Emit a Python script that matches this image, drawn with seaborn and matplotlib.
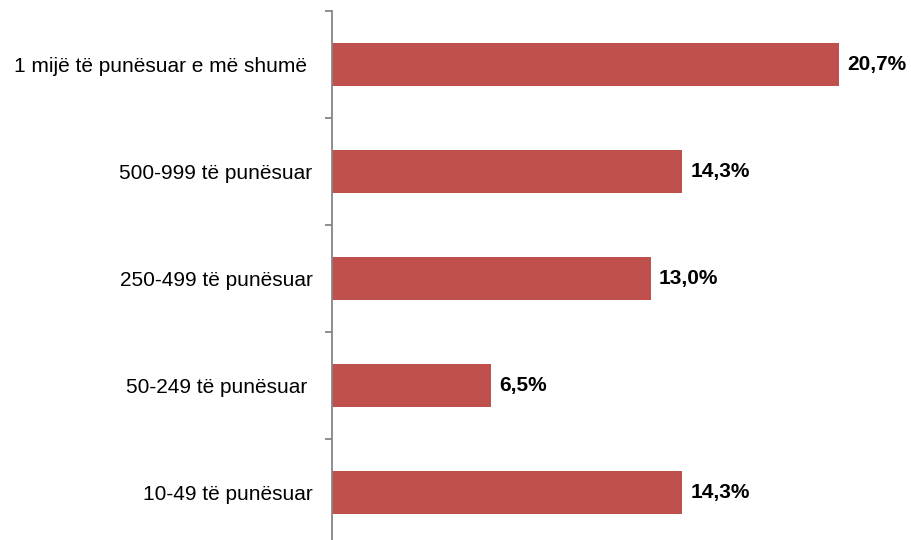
import matplotlib
matplotlib.use("Agg")
import matplotlib.pyplot as plt
import seaborn as sns
import pandas as pd

categories = ["1 mijë të punësuar e më shumë ", "500-999 të punësuar", "250-499 të punësuar",
              "50-249 të punësuar ", "10-49 të punësuar"]
values = [20.7, 14.3, 13.0, 6.5, 14.3]
value_labels = ["20,7%", "14,3%", "13,0%", "6,5%", "14,3%"]

df = pd.DataFrame({"cat": categories, "val": values})

sns.set_style("white")
plt.rcParams['font.family'] = ['Liberation Sans', 'DejaVu Sans']

fig = plt.figure(figsize=(9.11, 5.4), dpi=100)
# axes placed in pixels: left 332, right 911, top 11, bottom 546
ax = fig.add_axes([332/911, (540-546)/540, (911-332)/911, 535/540])

sns.barplot(data=df, x="val", y="cat", order=categories, color="#C0504D",
            width=0.4, orient="h", saturation=1, ax=ax, edgecolor="none")

ax.set_xlim(0, (911-332)/24.5)
ax.set_ylim(4.5, -0.5)
ax.set_xlabel("")
ax.set_ylabel("")
ax.set_xticks([])

for s in ["top", "right", "bottom"]:
    ax.spines[s].set_visible(False)
ax.spines["left"].set_color("#868686")
ax.spines["left"].set_linewidth(1.3)

ax.tick_params(axis="y", which="major", left=False, length=0, pad=14, labelsize=15, labelcolor="black")
ax.set_yticks([-0.5, 0.5, 1.5, 2.5, 3.5, 4.5], minor=True)
ax.tick_params(axis="y", which="minor", left=True, length=5, width=1.3, color="#868686", direction="out")

for i, (v, lab) in enumerate(zip(values, value_labels)):
    ax.text(v + 0.32, i, lab, va="center", ha="left", fontsize=15, fontweight="bold", color="black")

fig.savefig("out.png", dpi=100)
